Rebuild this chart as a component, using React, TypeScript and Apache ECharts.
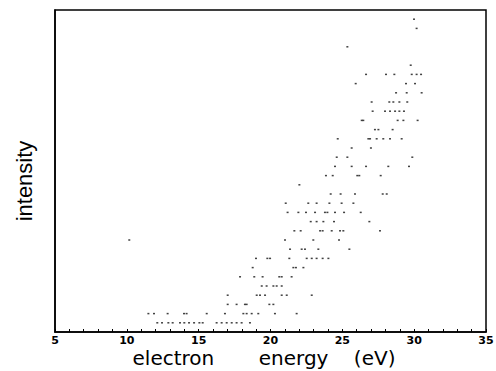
import React, { useEffect, useRef } from "react";
import * as echarts from "echarts";

// intensity levels (arbitrary units) and the electron energies (eV) observed at each level
const rowLevels: number[] = [1, 2, 3, 4, 5, 6, 7, 8, 9, 10, 11, 12, 13, 14, 15, 16, 17, 18, 19, 20, 21, 22, 23, 24, 25, 26, 27, 28, 29, 31, 33, 34];
const rowEnergies: number[][] = [
  [12.12, 12.45, 12.89, 13.19, 13.7, 14.0, 14.33, 14.68, 15.05, 15.28, 16.25, 16.6, 16.95, 17.3, 17.64, 17.99, 18.57],
  [11.5, 11.89, 12.84, 13.98, 14.16, 15.56, 16.83, 18.11, 18.34, 18.69, 19.15, 20.31, 21.82],
  [17.02, 17.64, 18.22, 18.34, 19.92, 20.2],
  [17.02, 19.04, 19.27, 19.62, 20.78, 21.13, 22.87],
  [19.39, 19.73, 20.2, 20.43, 20.78],
  [17.88, 18.87, 19.45, 20.61, 20.78, 21.47],
  [18.76, 21.59, 21.77, 22.29],
  [18.99, 19.78, 19.97, 21.31, 22.52, 22.87, 23.21, 23.63, 24.03],
  [21.36, 22.17, 22.4, 23.33, 25.49],
  [10.17, 21.01, 22.98, 24.77],
  [21.66, 22.1, 23.45, 23.63, 24.26, 24.84, 25.07, 27.62],
  [22.8, 23.21, 23.68, 24.42, 26.88],
  [21.19, 21.94, 22.47, 23.1, 23.79, 23.96, 24.49, 25.12, 26.28],
  [21.06, 22.63, 23.21, 24.1, 24.95, 25.77],
  [24.19, 24.88, 25.88, 27.81, 28.09],
  [22.01],
  [23.86, 24.33, 26.04, 26.18, 27.67],
  [24.49, 25.65, 26.65, 28.2, 29.64],
  [24.61, 25.35, 29.87],
  [25.65, 26.99],
  [24.68, 26.81, 26.93, 27.39, 27.85, 28.32, 29.13],
  [27.27, 27.51, 28.5],
  [26.35, 26.46, 28.85, 29.25, 30.24],
  [27.11, 27.97, 28.32, 28.67, 28.97, 29.29],
  [27.04, 28.27, 28.55, 28.97, 29.52],
  [28.74, 29.48, 30.52],
  [25.93, 29.43, 30.06],
  [26.65, 28.04, 28.62, 29.83, 30.17, 30.48],
  [29.76],
  [25.35],
  [30.17],
  [29.99],
];

const xTickLabels: number[] = [5, 10, 15, 20, 25, 30, 35];
const xTitle = "electron       energy    (eV)";
const yTitle = "intensity";

export default function App() {
  const ref = useRef<HTMLDivElement>(null);
  useEffect(() => {
    if (!ref.current) return;
    const chart = echarts.init(ref.current, null, { renderer: "svg" });
    const data: [number, number][] = [];
    rowLevels.forEach((lv, i) => {
      rowEnergies[i].forEach((e) => data.push([e, lv]));
    });
    chart.setOption({
      animation: false,
      backgroundColor: "#ffffff",
      grid: {
        left: 55,
        right: 10,
        top: 10,
        bottom: 39,
        show: true,
        borderColor: "#000",
        borderWidth: 1.5,
        backgroundColor: "transparent",
        containLabel: false,
        outerBoundsMode: "none",
      },
      graphic: [
        {
          type: "text",
          x: 264,
          y: 358,
          style: {
            text: xTitle,
            fill: "#000",
            fontFamily: "DejaVu Sans",
            fontSize: 20,
            align: "center",
            verticalAlign: "middle",
            textAlign: "center",
            textVerticalAlign: "middle",
          },
        },
        {
          type: "text",
          x: 24,
          y: 181,
          rotation: Math.PI / 2,
          style: {
            text: yTitle,
            fill: "#000",
            fontFamily: "Liberation Sans",
            fontSize: 22,
            align: "center",
            verticalAlign: "middle",
            textAlign: "center",
            textVerticalAlign: "middle",
          },
        },
      ],
      xAxis: {
        type: "value",
        min: 5,
        max: 35,
        interval: 1,
        axisLine: { show: true, lineStyle: { color: "#000", width: 1.5 } },
        axisTick: { show: true, inside: true, length: 3, lineStyle: { color: "#000", width: 1 } },
        splitLine: { show: false },
        axisLabel: {
          color: "#000",
          fontFamily: "DejaVu Sans",
          fontWeight: "bold",
          fontSize: 11,
          margin: 3,
          showMaxLabel: true,
          hideOverlap: false,
          formatter: (v: number) => (xTickLabels.includes(v) ? String(v) : ""),
        },
      },
      yAxis: {
        type: "value",
        min: 0,
        max: 35,
        axisLine: { show: true, lineStyle: { color: "#000", width: 1.5 } },
        axisTick: { show: false },
        axisLabel: { show: false },
        splitLine: { show: false },
      },
      series: [
        {
          type: "scatter",
          data,
          symbol: "rect",
          symbolSize: [2, 1.5],
          itemStyle: { color: "#111" },
        },
      ],
    });
    return () => chart.dispose();
  }, []);
  return (
    <div
      ref={ref}
      style={{ position: "fixed", left: 0, top: 0, width: 496, height: 371 }}
    />
  );
}
